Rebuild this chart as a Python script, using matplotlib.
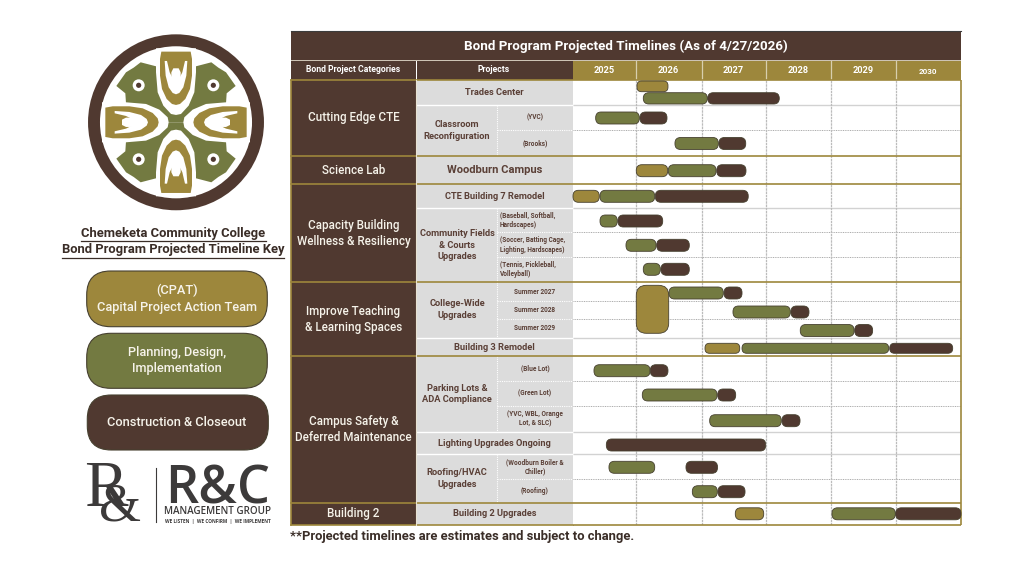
import numpy as np
import matplotlib
matplotlib.use("Agg")
import matplotlib.pyplot as plt
from matplotlib.patches import FancyBboxPatch, Rectangle, Polygon, Circle

plt.rcParams['font.family'] = ['Roboto', 'DejaVu Sans']

GOLD = '#9d873c'
OLIVE = '#737a41'
BROWN = '#503930'
GREY = '#dcdcdc'
TXT = '#5a3f36'
DARK = '#3a2d27'
EDGE = '#46402f'

# ---- chart data (decimal years)
years = ['2025', '2026', '2027', '2028', '2029', '2030']

categories = ['Cutting Edge CTE', 'Science Lab', 'Capacity Building\nWellness & Resiliency',
              'Improve Teaching\n& Learning Spaces', 'Campus Safety &\nDeferred Maintenance', 'Building 2']
category_rows = [(0, 2), (3, 3), (4, 7), (8, 11), (12, 17), (18, 18)]

full_projects = ['Trades Center', 'Woodburn Campus', 'CTE Building 7 Remodel', 'Building 3 Remodel',
                 'Lighting Upgrades Ongoing', 'Building 2 Upgrades']
full_project_rows = [0, 3, 4, 11, 15, 18]

group_projects = ['Classroom\nReconfiguration', 'Community Fields\n& Courts\nUpgrades', 'College-Wide\nUpgrades',
                  'Parking Lots &\nADA Compliance', 'Roofing/HVAC\nUpgrades']
group_project_rows = [(1, 2), (5, 7), (8, 10), (12, 14), (16, 17)]

sub_projects = ['(YVC)', '(Brooks)', '(Baseball, Softball,\nHardscapes)', '(Soccer, Batting Cage,\nLighting, Hardscapes)',
                '(Tennis, Pickleball,\nVolleyball)', 'Summer 2027', 'Summer 2028', 'Summer 2029', '(Blue Lot)',
                '(Green Lot)', '(YVC, WBL, Orange\nLot, & SLC)', '(Woodburn Boiler &\nChiller)', '(Roofing)']
sub_project_rows = [1, 2, 5, 6, 7, 8, 9, 10, 12, 13, 14, 16, 17]

cpat_rows = [0, 3, 4, 11, 18]
cpat_start = [2026.023, 2026.012, 2025.008, 2027.055, 2027.528]
cpat_end = [2026.492, 2026.488, 2025.425, 2027.597, 2027.972]

# one CPAT block covers all three summers
summer_cpat_start = 2026.012
summer_cpat_end = 2026.503

plan_rows = [0, 1, 2, 3, 4, 5, 6, 7, 8, 9, 10, 11, 12, 13, 14, 16, 17, 18]
plan_start = [2026.118, 2025.368, 2026.598, 2026.497, 2025.437, 2025.437, 2025.849, 2026.118, 2026.508,
              2027.492, 2028.535, 2027.633, 2025.341, 2026.103, 2027.128, 2025.579, 2026.861, 2029.023]
plan_end = [2027.091, 2026.058, 2027.263, 2027.227, 2026.291, 2025.711, 2026.311, 2026.376, 2027.341,
            2028.382, 2029.362, 2029.895, 2026.22, 2027.242, 2028.243, 2026.291, 2027.247, 2029.997]

build_rows = [0, 1, 2, 3, 4, 5, 6, 7, 8, 9, 10, 11, 12, 13, 14, 15, 16, 17, 18]
build_start = [2027.097, 2026.068, 2027.273, 2027.238, 2026.3, 2025.722, 2026.321, 2026.386, 2027.352,
               2028.392, 2029.372, 2029.911, 2026.224, 2027.253, 2028.254, 2025.537, 2026.765, 2027.258, 2030.003]
build_end = [2028.212, 2026.477, 2027.691, 2027.695, 2027.73, 2026.412, 2026.815, 2026.815, 2027.633,
             2028.669, 2029.648, 2030.873, 2026.492, 2027.534, 2028.531, 2028.003, 2027.25, 2027.68, 2031.0]

# ---- layout, in reference pixels
year_edges = [2025, 2026, 2027, 2028, 2029, 2030, 2031]
edge_px = [572.5, 635.5, 701.5, 765.5, 830.5, 895.5, 961]
row_edges = [80, 105, 130.3, 155.7, 184.3, 208.3, 232.3, 257.3, 281.7, 301.3, 319.3, 337.7, 356.3,
             381.3, 406.3, 431.7, 454.3, 479.3, 503, 524.7]
bar_mid = [98.3, 118, 143.5, 170.7, 196.3, 221, 245.3, 269.3, 293, 312, 330.5, 348.3, 370.7,
           395, 420.7, 445, 467.3, 491.7, 513.8]
gold_rows = [155.7, 184.3, 281.7, 356.3, 503, 524.7]
solid_rows = [105, 208.3, 337.7, 431.7, 454.3]
dotted_rows = [130.3, 232.3, 257.3, 301.3, 319.3, 381.3, 406.3, 479.3]

fig = plt.figure(figsize=(10.24, 5.77), dpi=100, facecolor='white')
ax = fig.add_axes([0, 0, 1, 1])
ax.set_xlim(0, 1024)
ax.set_ylim(577, 0)
ax.axis('off')


def rect(x0, x1, y0, y1, color, z=1):
    ax.add_patch(Rectangle((x0, y0), x1 - x0, y1 - y0, fc=color, ec='none', zorder=z))


def logo():
    cx, cy, s = 176, 122.3, 1 / 3
    ax.add_patch(Circle((cx, cy), 82, fc='white', ec=BROWN, lw=8.6, zorder=2))

    lobe = [(0, -40), (56, -167), (106, -180), (127, -164), (150, -150), (179, -109),
            (152, -87), (150, -57), (40, 0), (0, 0)]
    back = [(-60, -222), (60, -222), (60, -150), (55, -90), (38, -50), (15, -25), (0, -22), (-15, -25),
            (-38, -50), (-55, -90), (-60, -150)]
    gold = [(-44, -212), (44, -212), (48, -190), (48, -140), (42, -100), (28, -70), (12, -55), (0, -52),
            (-12, -55), (-28, -70), (-42, -100), (-48, -140), (-48, -190)]
    white_u = [(-34, -184), (-27, -184), (-19, -150), (-10, -132), (10, -132), (19, -150), (27, -184), (34, -184),
               (31, -140), (22, -105), (10, -88), (0, -84), (-10, -88), (-22, -105), (-31, -140)]
    blob = [(-14, -128), (-14, -150), (-8, -162), (8, -162), (14, -150), (14, -128)]

    for sx, sy in [(1, 1), (-1, 1), (1, -1), (-1, -1)]:
        pts = [(cx + sx * a * s, cy + sy * b * s) for a, b in lobe]
        ax.add_patch(Polygon(pts, fc=OLIVE, ec='none', zorder=3))
        ax.add_patch(Circle((cx + sx * 112 * s, cy + sy * 111 * s), 6, fc='white', ec='none', zorder=4))
        ax.add_patch(Circle((cx + sx * 112 * s, cy + sy * 111 * s), 2.6, fc=BROWN, ec='none', zorder=5))

    for k in range(4):
        for shape, color, z in [(back, 'white', 5), (gold, GOLD, 6), (white_u, 'white', 7), (blob, 'white', 7)]:
            pts = []
            for a, b in shape:
                for _ in range(k):
                    a, b = -b, a
                pts.append((cx + a * s, cy + b * s))
            ax.add_patch(Polygon(pts, fc=color, ec='none', zorder=z))


def key():
    for y, txt in [(233, 'Chemeketa Community College'), (250, 'Bond Program Projected Timeline Key')]:
        ax.text(173, y, txt, fontsize=9.4, fontweight='bold', color=DARK, ha='center', va='center', zorder=3)
    ax.plot([80.5, 266], [240.5, 240.5], color=DARK, lw=0.9)
    ax.plot([62, 284], [257.5, 257.5], color=DARK, lw=0.9)

    boxes = [(86.7, 267.3, 271, 326.7, GOLD), (86.7, 267.3, 333.3, 388.3, OLIVE), (87.3, 268.3, 395, 450, BROWN)]
    for x0, x1, y0, y1, c in boxes:
        ax.add_patch(FancyBboxPatch((x0, y0), x1 - x0, y1 - y0, boxstyle='round,pad=0,rounding_size=24',
                                    fc=c, ec=EDGE, lw=0.8, zorder=2))
    for y, txt in [(290.7, '(CPAT)'), (307.3, 'Capital Project Action Team'), (352.7, 'Planning, Design,'),
                   (368.7, 'Implementation'), (422, 'Construction & Closeout')]:
        ax.text(177, y, txt, fontsize=9.2, fontweight='medium', color='#f6f3ea', ha='center', va='center', zorder=3)


def rc_logo():
    c = '#3c3a3a'
    ax.text(106, 490, 'R', fontsize=47, family='Liberation Serif', color=c, ha='center', va='center')
    ax.text(120, 507, '&', fontsize=39, family='Liberation Serif', color=c, ha='center', va='center')
    ax.plot([155.5, 155.5], [468, 522], color=c, lw=0.8)
    ax.text(218, 490, 'R&C', fontsize=37.5, fontweight='semibold', family='Open Sans', color=c, ha='center', va='center')
    ax.text(218, 511.5, 'MANAGEMENT GROUP', fontsize=7.1, fontweight='semibold', family='Open Sans', color=c,
            ha='center', va='center')
    ax.text(218, 521, 'WE LISTEN  |  WE CONFIRM  |  WE IMPLEMENT', fontsize=3.4, fontweight='bold',
            family='Open Sans', color=c, ha='center', va='center')


def table():
    rect(290.5, 961, 31, 60, BROWN)
    rect(290.5, 961, 60, 61, '#cdc3b4')
    rect(290.5, 572.5, 61, 80, BROWN)
    rect(572.5, 961, 61, 80, GOLD)
    rect(416, 417.2, 61, 80, 'white', 2)
    ax.plot([290.5, 961], [30.8, 30.8], color='#3c3c3c', lw=0.8, zorder=2)
    ax.text(625.8, 46.5, 'Bond Program Projected Timelines (As of 4/27/2026)', fontsize=9.6, fontweight='bold',
            color='white', ha='center', va='center')
    ax.text(353.5, 70, 'Bond Project Categories', fontsize=6.2, fontweight='bold', color='white',
            ha='center', va='center')
    ax.text(494, 70, 'Projects', fontsize=6.2, fontweight='bold', color='white', ha='center', va='center')
    for px in edge_px[1:-1]:
        ax.plot([px, px], [61, 80], color='#d8cfae', lw=0.9, zorder=2)

    rect(290.5, 416, 80, 524.7, BROWN)
    rect(416.5, 572.5, 80, 524.7, GREY)
    for (r0, r1), txt in zip(category_rows, categories):
        ax.text(353.5, (row_edges[r0] + row_edges[r1 + 1]) / 2, txt, fontsize=8.4, fontweight='medium',
                color='#f6f3ea', ha='center', va='center', linespacing=1.3, zorder=3)
    for r, txt in zip(full_project_rows, full_projects):
        big = txt == 'Woodburn Campus'
        ax.text(494.5, (row_edges[r] + row_edges[r + 1]) / 2, txt, fontsize=8 if big else 6.7, fontweight='bold',
                color=TXT, ha='center', va='center', zorder=3)
    for (r0, r1), txt in zip(group_project_rows, group_projects):
        ax.text(457, (row_edges[r0] + row_edges[r1 + 1]) / 2, txt, fontsize=6.7, fontweight='bold',
                color=TXT, ha='center', va='center', linespacing=1.4, zorder=3)
        ax.plot([497.3, 497.3], [row_edges[r0], row_edges[r1 + 1]], color='white', lw=0.8, ls=(0, (1, 1)), zorder=2)
    for r, txt in zip(sub_project_rows, sub_projects):
        ha = 'left' if txt.startswith(('(Base', '(Soccer', '(Tennis')) else 'center'
        x = 499.5 if ha == 'left' else 535
        ax.text(x, (row_edges[r] + row_edges[r + 1]) / 2, txt, fontsize=4.7, fontweight='bold', color=TXT,
                ha=ha, va='center', linespacing=1.25, zorder=3)

    for y in solid_rows:
        ax.plot([416.5, 572.5], [y, y], color='white', lw=1, zorder=2)
    for y in dotted_rows:
        ax.plot([497.3, 572.5], [y, y], color='white', lw=0.8, ls=(0, (1, 1)), zorder=2)
    for y in gold_rows:
        ax.plot([290.5, 572.5], [y, y], color=GOLD, lw=1.2, zorder=4)
    ax.plot([290.5, 572.5], [80, 80], color=GOLD, lw=1.2, zorder=4)
    ax.plot([290.5, 290.5], [80, 524.7], color=GOLD, lw=1.2, zorder=4)
    ax.plot([416.3, 416.3], [80, 524.7], color='#e8e2d2', lw=0.8, zorder=4)
    ax.text(290, 536.5, '**Projected timelines are estimates and subject to change.', fontsize=9.4,
            fontweight='bold', color=DARK, ha='left', va='center')


logo()
key()
rc_logo()
table()

# ---- timeline area
gantt = fig.add_axes([572.5 / 1024, 1 - 524.7 / 577, (961 - 572.5) / 1024, (524.7 - 80) / 577])
gantt.set_xscale('function', functions=(lambda v: np.interp(v, year_edges, edge_px),
                                        lambda v: np.interp(v, edge_px, year_edges)))
gantt.set_xlim(2025, 2031)
gantt.set_ylim(524.7, 80)
gantt.set_yticks([])
for s in gantt.spines.values():
    s.set_visible(False)

gantt.set_xticks(year_edges[1:-1])
gantt.set_xticklabels([])
gantt.set_xticks([y + 0.5 for y in year_edges[:-1]], labels=years, minor=True)
gantt.xaxis.tick_top()
gantt.tick_params(axis='x', which='both', length=0)
gantt.tick_params(axis='x', which='minor', pad=3.5, labelsize=6.6, labelcolor='white')
for lab in gantt.get_xticklabels(minor=True):
    lab.set_fontweight('bold')
gantt.get_xticklabels(minor=True)[-1].set_fontsize(5.8)
gantt.grid(axis='x', which='major', color='#bcbcbc', lw=0.9, ls=(0, (2, 0.6)), zorder=1)

gantt.hlines(solid_rows, 2025, 2031, color='#d2d2d2', lw=1, zorder=1)
gantt.hlines(dotted_rows, 2025, 2031, color='#ababab', lw=0.7, ls=(0, (1, 0.8)), zorder=1)
gantt.hlines(gold_rows + [80], 2025, 2031, color=GOLD, lw=1.2, zorder=2, clip_on=False)
gantt.vlines([2031], 80, 524.7, color=GOLD, lw=1.2, zorder=2, clip_on=False)


def bar(x0, x1, y0, y1, color, r=5.6):
    # rounding is given in years, mutation_aspect turns it back into y pixels
    gantt.add_patch(FancyBboxPatch((x0, y0), x1 - x0, y1 - y0, boxstyle=f'round,pad=0,rounding_size={r / 65}',
                                   mutation_aspect=65, fc=color, ec=EDGE, lw=0.6, zorder=3, clip_on=False))


def bar_span(row):
    # Trades Center stacks two bars, Building 3 has thinner ones
    if row == 11:
        return 343.3, 353.3
    if row == 0:
        return 92.7, 104
    return bar_mid[row] - 6, bar_mid[row] + 6


for row, a, b in zip(cpat_rows, cpat_start, cpat_end):
    y0, y1 = (81, 91.7) if row == 0 else bar_span(row)
    bar(a, b, y0, y1, GOLD, r=4.5 if row in (0, 11) else 5.6)
bar(summer_cpat_start, summer_cpat_end, 285.3, 333.3, GOLD, r=10)
for row, a, b in zip(plan_rows, plan_start, plan_end):
    y0, y1 = bar_span(row)
    bar(a, b, y0, y1, OLIVE, r=4.8 if row == 11 else 5.6)
for row, a, b in zip(build_rows, build_start, build_end):
    y0, y1 = bar_span(row)
    bar(a, b, y0, y1, BROWN, r=4.8 if row == 11 else 5.6)

fig.savefig('out.png', dpi=100, facecolor='white')
